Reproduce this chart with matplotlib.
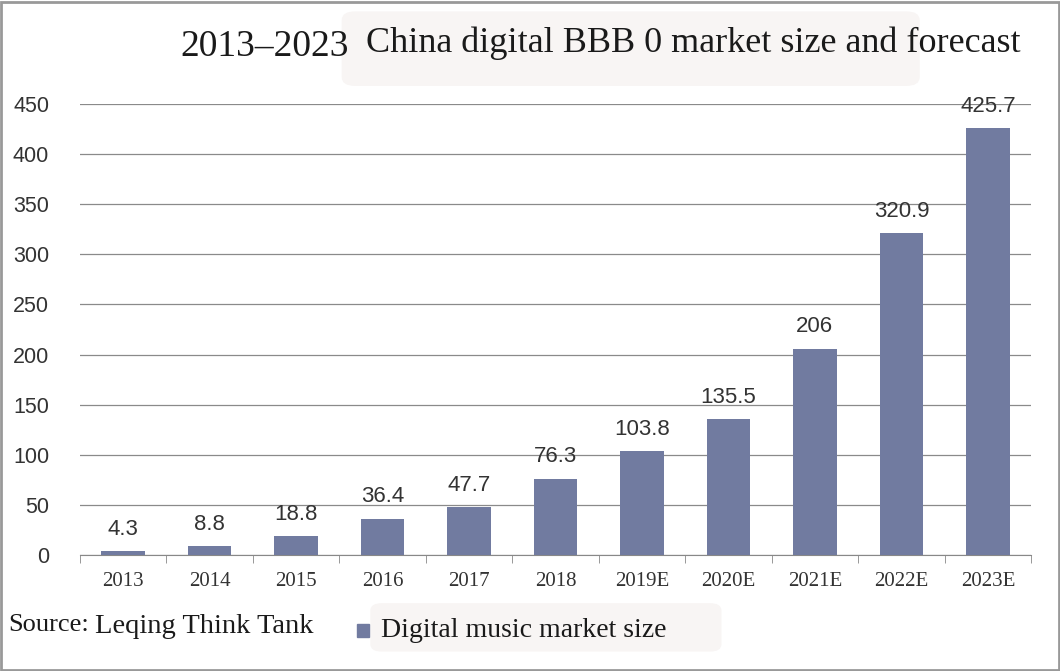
import matplotlib.pyplot as plt
from matplotlib.patches import FancyBboxPatch, Rectangle

# Данные: годы и объём рынка цифровой музыки
years = ['2013', '2014', '2015', '2016', '2017', '2018',
         '2019E', '2020E', '2021E', '2022E', '2023E']
market_size = [4.3, 8.8, 18.8, 36.4, 47.7, 76.3, 103.8, 135.5, 206, 320.9, 425.7]
value_labels = ['4.3', '8.8', '18.8', '36.4', '47.7', '76.3',
                '103.8', '135.5', '206', '320.9', '425.7']
y_ticks = [0, 50, 100, 150, 200, 250, 300, 350, 400, 450]

bar_color = '#717ba0'
serif = ['Liberation Serif', 'DejaVu Serif']
sans = ['Liberation Sans', 'DejaVu Sans']

fig = plt.figure(figsize=(10.6, 6.71), dpi=100)
ax = fig.add_axes([0.0752, 0.1729, 0.8976, 0.6721])

x = range(len(years))
bars = ax.bar(x, market_size, width=0.5, color=bar_color, zorder=3)

for xi, v, lab in zip(x, market_size, value_labels):
    ax.annotate(lab, (xi, v), xytext=(0, 8), textcoords='offset points',
                ha='center', va='bottom', fontsize=16, family=sans,
                color='#333333', zorder=4)

ax.set_xlim(-0.5, len(years) - 0.5)
ax.set_ylim(0, 450)
ax.set_yticks(y_ticks)
ax.set_yticklabels([str(t) for t in y_ticks], family=sans, fontsize=15.5, color='#333333')
ax.set_xticks(list(x))
ax.set_xticklabels(years, family=serif, fontsize=15, color='#333333')
ax.set_xticks([i - 0.5 for i in range(len(years) + 1)], minor=True)
ax.tick_params(axis='x', which='major', length=0, pad=12)
ax.tick_params(axis='x', which='minor', length=6, color='#888888', direction='out')
ax.tick_params(axis='y', length=0, pad=22)

ax.grid(axis='y', color='#8a8a8a', linewidth=0.9, zorder=0)
for s in ['top', 'right', 'left']:
    ax.spines[s].set_visible(False)
ax.spines['bottom'].set_color('#888888')

# Заголовок с лёгкой подложкой
fig.patches.append(FancyBboxPatch((0.335, 0.885), 0.52, 0.085, boxstyle='round,pad=0.012',
                                  transform=fig.transFigure, color='#f8f5f4', zorder=0))
fig.text(0.170, 0.931, '2013–2023', family=serif, fontsize=27, color='#1a1a1a',
         ha='left', va='center')
fig.text(0.345, 0.936, 'China digital BBB 0 market size and forecast', family=serif,
         fontsize=26, color='#1a1a1a', ha='left', va='center')

# Источник и легенда
fig.text(0.008, 0.069, 'Source:', family=serif, fontsize=19, color='#1a1a1a',
         ha='left', va='center')
fig.text(0.090, 0.066, 'Leqing Think Tank', family=serif, fontsize=20.5, color='#1a1a1a',
         ha='left', va='center')
fig.patches.append(FancyBboxPatch((0.36, 0.04), 0.31, 0.05, boxstyle='round,pad=0.01',
                                  transform=fig.transFigure, color='#f8f5f4', zorder=0))
fig.patches.append(Rectangle((0.337, 0.051), 0.011, 0.019, transform=fig.transFigure,
                             color=bar_color, zorder=1))
fig.text(0.359, 0.061, 'Digital music market size', family=serif, fontsize=20,
         color='#1a1a1a', ha='left', va='center')

# Рамка вокруг рисунка
fig.patches.append(Rectangle((0.001, 0.002), 0.998, 0.995, transform=fig.transFigure,
                             fill=False, edgecolor='#999999', linewidth=2, zorder=5))

fig.savefig('out.png', dpi=100)
